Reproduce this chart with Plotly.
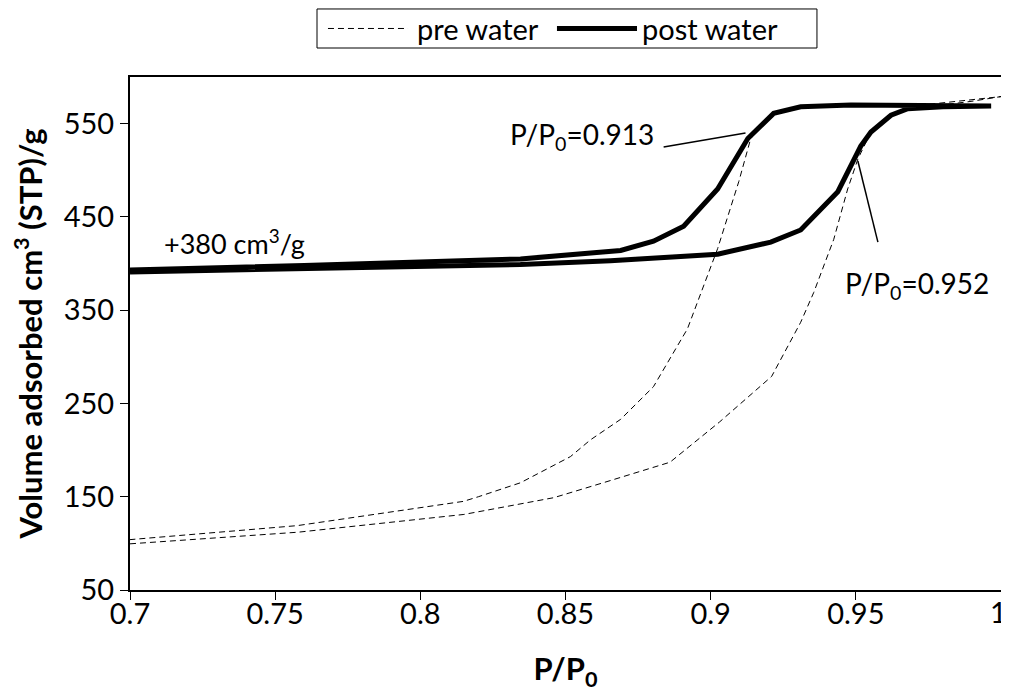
import plotly.graph_objects as go

# pre water isotherm (dashed): adsorption branch then desorption branch
pre_ads_x = [0.700, 0.758, 0.815, 0.846, 0.863, 0.886, 0.903, 0.921, 0.931, 0.9355,
             0.9424, 0.9472, 0.9507, 0.9552, 0.962, 0.970, 0.980, 0.990, 1.000]
pre_ads_y = [99.5, 112, 131, 149, 165, 187, 230, 279, 337, 369,
             426, 480, 512, 541, 559, 566, 570, 574, 579]
pre_des_x = [0.970, 0.950, 0.930, 0.921, 0.9138, 0.9097, 0.9024, 0.892, 0.8803, 0.869,
             0.8586, 0.8517, 0.8345, 0.820, 0.8148, 0.7576, 0.700]
pre_des_y = [569, 569, 567, 560, 534, 488, 416, 330, 268, 233,
             211, 193, 165, 150, 145, 119, 104]

# post water isotherm (+380 cm3/g offset), thick line
post_ads_x = [0.700, 0.760, 0.8345, 0.8655, 0.9024, 0.9207, 0.931, 0.9438,
              0.9517, 0.9552, 0.9621, 0.9679, 0.980, 0.9966]
post_ads_y = [391, 394, 399, 403, 410, 423, 436, 477,
              526, 541, 559, 566, 568, 569]
post_des_x = [0.9966, 0.9483, 0.931, 0.9217, 0.9128, 0.9024, 0.8907, 0.8803, 0.869,
              0.8345, 0.760, 0.700]
post_des_y = [569, 570, 568, 561, 534, 480, 440, 424, 414,
              405, 398, 393]

series_names = ['pre water', 'post water']
x_ticks = [0.7, 0.75, 0.8, 0.85, 0.9, 0.95, 1.0]
x_ticklabels = ['0.7', '0.75', '0.8', '0.85', '0.9', '0.95', '1']

FONT = "Lato, 'Open Sans', sans-serif"
FS = 29

fig = go.Figure()
fig.add_trace(go.Scatter(
    x=pre_ads_x + pre_des_x,
    y=pre_ads_y + pre_des_y,
    mode='lines',
    name=series_names[0],
    line=dict(color='black', width=1, dash='6px,4px')
))
fig.add_trace(go.Scatter(
    x=post_ads_x + post_des_x,
    y=post_ads_y + post_des_y,
    mode='lines',
    name=series_names[1],
    line=dict(color='black', width=5)
))

# leader lines for the two labelled pressures
fig.add_shape(type='line', x0=0.8838, y0=525, x1=0.912, y1=540,
              line=dict(color='black', width=1.5))
fig.add_shape(type='line', x0=0.9507, y0=510, x1=0.9576, y1=423,
              line=dict(color='black', width=1.5))

fig.add_annotation(x=0.881, y=537, text='P/P<sub>0</sub>=0.913', showarrow=False,
                   xanchor='right', yanchor='middle', font=dict(size=28))
fig.add_annotation(x=0.9455, y=377, text='P/P<sub>0</sub>=0.952', showarrow=False,
                   xanchor='left', yanchor='middle', font=dict(size=28))
fig.add_annotation(x=0.711, y=423, text='+380 cm<sup>3</sup>/g', showarrow=False,
                   xanchor='left', yanchor='middle', font=dict(size=27))

# last x tick label sits on the right page edge, so draw it as an annotation
fig.add_annotation(x=x_ticks[-1], xref='x', y=-0.041, yref='paper',
                   text=x_ticklabels[-1], showarrow=False, xshift=-3,
                   xanchor='center', yanchor='middle', font=dict(size=FS))

# legend box drawn above the plot area
LEG_Y = 1.0946
fig.add_shape(type='rect', xref='paper', yref='paper',
              x0=0.2147, x1=0.7887, y0=1.0565, y1=1.1326,
              line=dict(color='black', width=1), fillcolor='white')
fig.add_shape(type='line', xref='paper', yref='paper',
              x0=0.2273, x1=0.3192, y0=LEG_Y, y1=LEG_Y,
              line=dict(color='black', width=1, dash='6px,4px'))
fig.add_shape(type='line', xref='paper', yref='paper',
              x0=0.4902, x1=0.5821, y0=LEG_Y, y1=LEG_Y,
              line=dict(color='black', width=5))
fig.add_annotation(xref='paper', yref='paper', x=0.3272, y=LEG_Y,
                   text=series_names[0], showarrow=False,
                   xanchor='left', yanchor='middle', font=dict(size=FS))
fig.add_annotation(xref='paper', yref='paper', x=0.5855, y=LEG_Y,
                   text=series_names[1], showarrow=False,
                   xanchor='left', yanchor='middle', font=dict(size=FS))

# the page body adds an 8px offset, so the figure is sized to fit the window
fig.update_layout(
    width=1001, height=691,
    margin=dict(l=122, r=8, t=69, b=109, autoexpand=False),
    plot_bgcolor='white', paper_bgcolor='white',
    font=dict(family=FONT, color='black', size=FS),
    showlegend=False,
    xaxis=dict(
        range=[0.7, 1.0],
        tickvals=x_ticks, ticktext=x_ticklabels[:-1] + [''],
        showline=True, linecolor='black', linewidth=2, mirror=True,
        ticks='outside', ticklen=8, tickcolor='black', tickwidth=1,
        showgrid=False, zeroline=False, automargin=False,
        tickfont=dict(size=FS), ticklabelstandoff=-11,
        title=dict(text='<b>P/P<sub>0</sub></b>', font=dict(size=31), standoff=30)
    ),
    yaxis=dict(
        range=[50, 600], tick0=50, dtick=100,
        showline=True, linecolor='black', linewidth=2, mirror=True,
        ticks='outside', ticklen=8, tickcolor='black', tickwidth=1,
        showgrid=False, zeroline=False, automargin=False,
        tickfont=dict(size=FS),
        title=dict(text='<b>Volume adsorbed cm<sup>3</sup> (STP)/g</b>',
                   font=dict(size=31), standoff=20)
    )
)

fig.write_html("out.html")
